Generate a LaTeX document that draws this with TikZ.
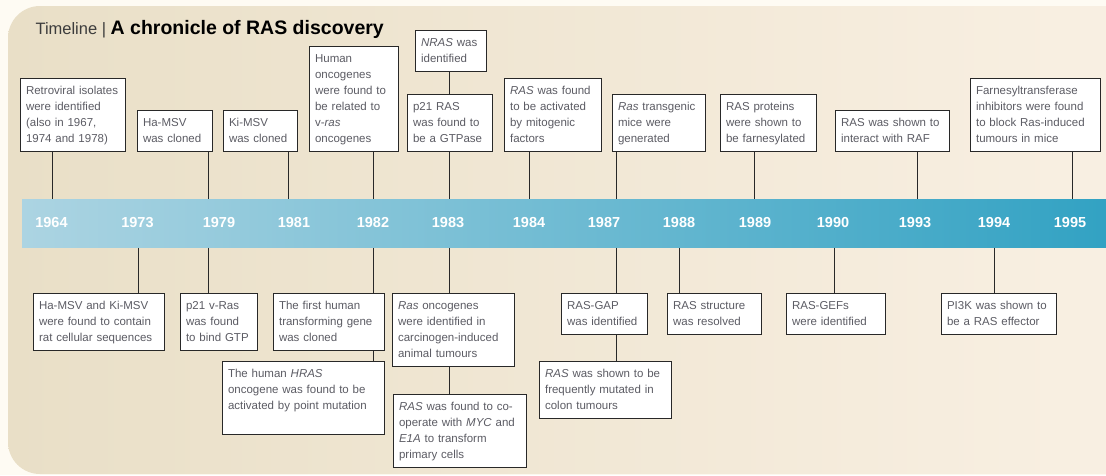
\documentclass[tikz,border=0pt]{standalone}
\usepackage{fontspec}
\setmainfont{Liberation Sans}
\definecolor{pagecream}{RGB}{254,251,243}
\definecolor{bgleft}{RGB}{233,223,199}
\definecolor{bgright}{RGB}{249,240,227}
\definecolor{barleft}{RGB}{172,212,226}
\definecolor{barright}{RGB}{50,162,195}
\definecolor{boxtext}{RGB}{92,92,100}
\definecolor{boxline}{RGB}{40,40,40}
\definecolor{titlegray}{RGB}{60,60,60}

\begin{document}
\begin{tikzpicture}[x=1pt, y=-1pt,
        evbox/.style={draw=boxline, line width=1.1pt, fill=white, text=boxtext, inner xsep=5.5pt, inner ysep=4.5pt,
            align=left, font=\fontsize{11.5}{16}\selectfont, execute at begin node=\strut, execute at end node=\strut},
        topbox/.style={evbox, anchor=south west},
        lowbox/.style={evbox, anchor=north west},
        yearlbl/.style={text=white, font=\fontsize{14.5}{16}\selectfont\bfseries},
        stem/.style={draw=boxline, line width=0.9pt}]
        \useasboundingbox (0,0) rectangle (1106,475);
        \fill[pagecream] (0,0) rectangle (1106,475);
        \shade[left color=bgleft, right color=bgright, rounded corners=32pt] (8,6) rectangle (1140,474);

        \node[anchor=base west, text=titlegray, font=\fontsize{16.5}{22}\selectfont] (title) at (32,34)
            {Timeline | \textcolor{black}{\fontsize{19.5}{22}\selectfont\bfseries A chronicle of RAS discovery}};

        \node[anchor=north west, minimum width=1084pt, minimum height=48.5pt, inner sep=0pt,
            left color=barleft, right color=barright] (bar) at (22,199) {};

        \foreach \yr/\lx/\sx in {1964/51.5/52.3, 1973/137.5/138.7, 1979/219/208.5, 1981/294/288.6,
                1982/373/373, 1983/448/449, 1984/529/529, 1987/604/616.5, 1988/679/679, 1989/755/754,
                1990/833/834.5, 1993/915/917, 1994/994/994, 1995/1070/1072} {
            \node[yearlbl] (y\yr) at (\lx,223) {\yr};
            \coordinate (k\yr) at (\sx,223);
        }

        \node[topbox, text width=94pt] (ev64) at (20,152) {Retroviral isolates\\were identified\\(also in 1967,\\1974 and 1978)};
        \node[topbox, text width=64pt] (ev79a) at (137,152) {Ha-MSV\\was cloned};
        \node[topbox, text width=63pt] (ev81) at (223,152) {Ki-MSV\\was cloned};
        \node[topbox, text width=78pt] (ev82a) at (309,152) {Human\\oncogenes\\were found to\\be related to\\v-\textit{ras}\\oncogenes};
        \node[topbox, text width=74pt] (ev83b) at (407,152) {p21 RAS\\was found to\\be a GTPase};
        \node[topbox, text width=60pt] (ev83a) at (415,72) {\textit{NRAS} was\\identified};
        \node[topbox, text width=86pt] (ev84) at (504,152) {\textit{RAS} was found\\to be activated\\by mitogenic\\factors};
        \node[topbox, text width=82pt] (ev87a) at (612,152) {\textit{Ras} transgenic\\mice were\\generated};
        \node[topbox, text width=85pt] (ev89) at (720,152) {RAS proteins\\were shown to\\be farnesylated};
        \node[topbox, text width=103pt] (ev93) at (835,152) {RAS was shown to\\interact with RAF};
        \node[topbox, text width=119pt] (ev95) at (970,152) {Farnesyltransferase\\inhibitors were found\\to block Ras-induced\\tumours in mice};

        \node[lowbox, text width=120pt] (ev73) at (33,293) {Ha-MSV and Ki-MSV\\were found to contain\\rat cellular sequences};
        \node[lowbox, text width=66pt] (ev79b) at (180,293) {p21 v-Ras\\was found\\to bind GTP};
        \node[lowbox, text width=100pt] (ev82b) at (273,293) {The first human\\transforming gene\\was cloned};
        \node[lowbox, text width=151pt] (ev82c) at (222,361) {The human \textit{HRAS}\\oncogene was found to be\\activated by point mutation\\ \mbox{}};
        \node[lowbox, text width=111pt] (ev83c) at (392,293) {\textit{Ras} oncogenes\\were identified in\\carcinogen-induced\\animal tumours};
        \node[lowbox, text width=122pt] (ev83d) at (393,394) {\textit{RAS} was found to co-\\operate with \textit{MYC} and\\\textit{E1A} to transform\\primary cells};
        \node[lowbox, text width=75pt] (ev87b) at (561,293) {RAS-GAP\\was identified};
        \node[lowbox, text width=121pt] (ev87c) at (539,361) {\textit{RAS} was shown to be\\frequently mutated in\\colon tumours};
        \node[lowbox, text width=83pt] (ev88) at (667,293) {RAS structure\\was resolved};
        \node[lowbox, text width=88pt] (ev90) at (786,293) {RAS-GEFs\\were identified};
        \node[lowbox, text width=104pt] (ev94) at (941,293) {PI3K was shown to\\be a RAS effector};

        \draw[stem] (ev64.south -| k1964) -- (bar.north -| k1964);
        \draw[stem] (ev79a.south -| k1979) -- (bar.north -| k1979);
        \draw[stem] (ev81.south -| k1981) -- (bar.north -| k1981);
        \draw[stem] (ev82a.south -| k1982) -- (bar.north -| k1982);
        \draw[stem] (ev83a.south -| k1983) -- (ev83b.north -| k1983);
        \draw[stem] (ev83b.south -| k1983) -- (bar.north -| k1983);
        \draw[stem] (ev84.south -| k1984) -- (bar.north -| k1984);
        \draw[stem] (ev87a.south -| k1987) -- (bar.north -| k1987);
        \draw[stem] (ev89.south -| k1989) -- (bar.north -| k1989);
        \draw[stem] (ev93.south -| k1993) -- (bar.north -| k1993);
        \draw[stem] (ev95.south -| k1995) -- (bar.north -| k1995);

        \draw[stem] (bar.south -| k1973) -- (ev73.north -| k1973);
        \draw[stem] (bar.south -| k1979) -- (ev79b.north -| k1979);
        \draw[stem] (bar.south -| k1982) -- (ev82b.north -| k1982);
        \draw[stem] (ev82b.south -| k1982) -- (ev82c.north -| k1982);
        \draw[stem] (bar.south -| k1983) -- (ev83c.north -| k1983);
        \draw[stem] (ev83c.south -| k1983) -- (ev83d.north -| k1983);
        \draw[stem] (bar.south -| k1987) -- (ev87b.north -| k1987);
        \draw[stem] (ev87b.south -| k1987) -- (ev87c.north -| k1987);
        \draw[stem] (bar.south -| k1988) -- (ev88.north -| k1988);
        \draw[stem] (bar.south -| k1990) -- (ev90.north -| k1990);
        \draw[stem] (bar.south -| k1994) -- (ev94.north -| k1994);
    \end{tikzpicture}
\end{document}
